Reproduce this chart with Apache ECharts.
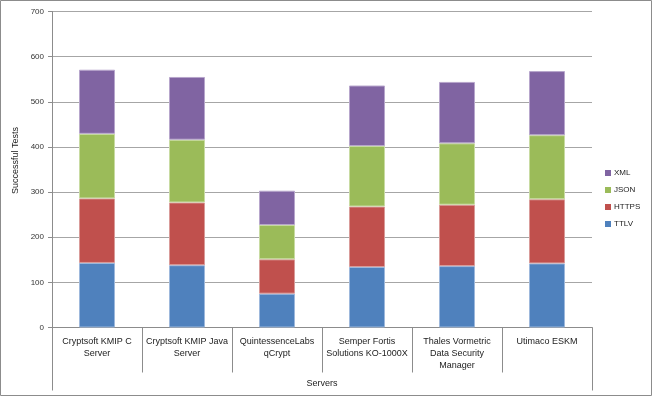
<!DOCTYPE html>
<html>
<head>
<meta charset="utf-8">
<script src="https://cdn.jsdelivr.net/npm/echarts@6/dist/echarts.min.js"></script>
<style>
  html, body { margin: 0; padding: 0; background: #fff; }
  #main { width: 653px; height: 397px; }
</style>
</head>
<body>
<div id="main"></div>
<script>
// categories (wrapped like the original axis labels)
var servers = [
  'Cryptsoft KMIP C\nServer',
  'Cryptsoft KMIP Java\nServer',
  'QuintessenceLabs\nqCrypt',
  'Semper Fortis\nSolutions KO-1000X',
  'Thales Vormetric\nData Security\nManager',
  'Utimaco ESKM'
]
var groupLabel = ['Servers']

// successful tests per protocol
var ttlv = [143, 138, 75, 134, 136, 142]
var https = [143, 139, 76, 134, 136, 142]
var json = [143, 139, 76, 134, 136, 142]
var xml = [142, 139, 76, 134, 136, 142]

var yTicks = { min: 0, max: 700, step: 100 }

var font = 'Liberation Sans, Arial, sans-serif'
var gray = '#8c8c8c'

var myChart = echarts.init(document.getElementById('main'))

function bar (name, data, color, edge) {
  return {
    name: name,
    type: 'bar',
    stack: 'total',
    barWidth: '40%',
    data: data,
    itemStyle: { color: color, borderColor: edge, borderWidth: 1 }
  }
}

myChart.setOption({
  animation: false,
  textStyle: { fontFamily: font },
  graphic: [{
    type: 'rect',
    shape: { x: 0.5, y: 0.5, width: 651, height: 395 },
    style: { fill: 'none', stroke: gray, lineWidth: 1 },
    silent: true
  }],
  grid: { left: 52, right: 61, top: 11.5, bottom: 69.5 },
  legend: {
    orient: 'vertical',
    left: 603,
    top: 167,
    padding: 2,
    itemWidth: 6,
    itemHeight: 6,
    itemGap: 9,
    icon: 'rect',
    itemStyle: { borderWidth: 0 },
    textStyle: { fontSize: 8, color: '#222', fontFamily: font, padding: [0, 0, 0, -2] },
    data: ['XML', 'JSON', 'HTTPS', 'TTLV']
  },
  xAxis: [
    {
      type: 'category',
      data: servers,
      axisLine: { show: true, lineStyle: { color: gray } },
      axisTick: { show: true, interval: 0, length: 45, lineStyle: { color: gray } },
      axisLabel: { interval: 0, fontSize: 9, color: '#222', margin: 8, lineHeight: 12, fontFamily: font },
      splitLine: { show: false }
    },
    {
      type: 'category',
      position: 'bottom',
      data: groupLabel,
      axisLine: { show: false },
      axisTick: { show: true, length: 63, lineStyle: { color: gray } },
      axisLabel: { fontSize: 9, color: '#222', margin: 52, fontFamily: font },
      splitLine: { show: false }
    }
  ],
  yAxis: {
    type: 'value',
    min: yTicks.min,
    max: yTicks.max,
    interval: yTicks.step,
    name: 'Successful Tests',
    nameLocation: 'middle',
    nameGap: 32,
    nameTextStyle: { fontSize: 9, color: '#222', fontFamily: font, padding: [0, 0, 0, 18] },
    axisLine: { show: true, lineStyle: { color: gray } },
    axisTick: { show: true, length: 4, lineStyle: { color: gray } },
    axisLabel: { fontSize: 8, color: '#333', margin: 8, fontFamily: font },
    splitLine: { show: true, lineStyle: { color: '#a6a6a6', width: 1 } }
  },
  series: [
    bar('TTLV', ttlv, '#4F81BD', '#9db8dc'),
    bar('HTTPS', https, '#C0504D', '#d99b99'),
    bar('JSON', json, '#9BBB59', '#c8dba2'),
    bar('XML', xml, '#8064A2', '#b7a6cc')
  ]
})
</script>
</body>
</html>
